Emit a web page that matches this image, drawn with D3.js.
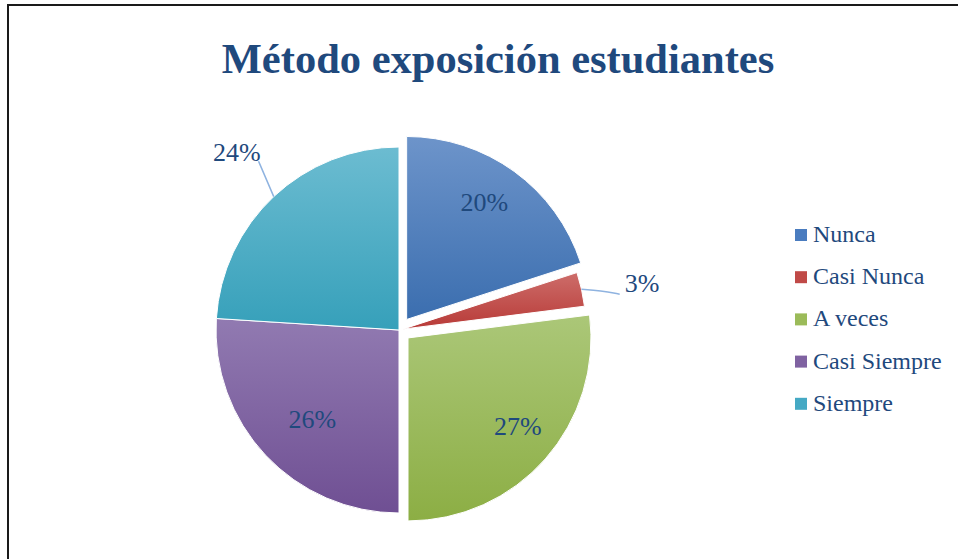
<!DOCTYPE html>
<html>
<head>
<meta charset="utf-8">
<script src="https://cdn.jsdelivr.net/npm/d3@7"></script>
<style>
  body { margin: 0; background: #fff; }
  svg { display: block; }
</style>
</head>
<body>
<div id="chart"></div>
<script>
const width = 958;
const height = 559;

// data
const categories = ["Nunca", "Casi Nunca", "A veces", "Casi Siempre", "Siempre"];
const values = [20, 3, 27, 26, 24];
const labelInside = [true, false, true, true, false];

// styling per slice
const explode = [13, 4, 12, 0, 0];
const labelRadius = [0.77, 1.2, 0.77, 0.68, 1.2];
const topColors = ["#6d94ca", "#cd6d6a", "#abc778", "#917ab1", "#6cbcd1"];
const bottomColors = ["#3b6eaf", "#b83a37", "#8cae44", "#6f4f93", "#36a0ba"];
const legendColors = ["#4a7cbf", "#c04a47", "#9bbb59", "#7f62a1", "#45a9c4"];

const textColor = "#1f497d";
const serif = "Liberation Serif";

const cx = 399;
const cy = 330;
const r = 183;

const svg = d3
  .select("#chart")
  .append("svg")
  .attr("width", width)
  .attr("height", height);

const defs = svg.append("defs");
categories.forEach((c, i) => {
  const g = defs
    .append("linearGradient")
    .attr("id", "grad" + i)
    .attr("x1", 0)
    .attr("y1", 0)
    .attr("x2", 0)
    .attr("y2", 1);
  g.append("stop").attr("offset", "0%").attr("stop-color", topColors[i]);
  g.append("stop").attr("offset", "100%").attr("stop-color", bottomColors[i]);
});

// frame (only top and left edges are visible in the picture)
svg
  .append("rect")
  .attr("x", 8)
  .attr("y", 5)
  .attr("width", width + 20)
  .attr("height", height + 20)
  .attr("fill", "none")
  .attr("stroke", "#1a1a1a")
  .attr("stroke-width", 2);

svg
  .append("text")
  .attr("x", 498)
  .attr("y", 73)
  .attr("text-anchor", "middle")
  .style("font-family", serif)
  .style("font-weight", "bold")
  .style("font-size", "42.5px")
  .attr("fill", textColor)
  .text("Método exposición estudiantes");

const pie = d3.pie().sort(null).startAngle(0).endAngle(2 * Math.PI);
const arcs = pie(values);

const arc = d3.arc().innerRadius(0).outerRadius(r);

const dir = (a) => [Math.sin(a), -Math.cos(a)];

const pieG = svg.append("g").attr("transform", `translate(${cx},${cy})`);

const slices = pieG
  .selectAll("g.slice")
  .data(arcs)
  .join("g")
  .attr("class", "slice")
  .attr("transform", (d, i) => {
    const [dx, dy] = dir((d.startAngle + d.endAngle) / 2);
    return `translate(${dx * explode[i]},${dy * explode[i]})`;
  });

slices
  .append("path")
  .attr("d", arc)
  .attr("fill", (d, i) => `url(#grad${i})`)
  .attr("stroke", "#fff")
  .attr("stroke-width", 1);

// inside labels
slices
  .filter((d, i) => labelInside[i])
  .append("text")
  .attr("transform", (d) => {
    const m = (d.startAngle + d.endAngle) / 2 - 0.045;
    const [dx, dy] = dir(m);
    const k = labelRadius[d.index] * r;
    return `translate(${dx * k},${dy * k})`;
  })
  .attr("text-anchor", "middle")
  .attr("dy", "0.35em")
  .style("font-family", serif)
  .style("font-size", "26px")
  .attr("fill", textColor)
  .text((d) => d.value + "%");

// outside labels with leader lines
const outside = slices.filter((d, i) => !labelInside[i]);

outside.each(function (d) {
  const g = d3.select(this);
  const m = (d.startAngle + d.endAngle) / 2;
  const [sx, sy] = dir(m);
  const [ex, ey] = dir(m + 0.06);
  const k = labelRadius[d.index] * r;
  const p0 = [sx * r, sy * r];
  const p1 = [ex * k, ey * k];
  const right = p1[0] > 0;

  g.append("path")
    .attr("d", d3.line().curve(d3.curveBasis)([p0, [(p0[0] + p1[0]) / 2, (p0[1] + p1[1]) / 2 + (right ? -1 : 0)], p1]))
    .attr("fill", "none")
    .attr("stroke", "#8fb3e0")
    .attr("stroke-width", 1.5);

  g.append("text")
    .attr("x", p1[0] + (right ? 5 : 2))
    .attr("y", p1[1] + (right ? -2 : 0))
    .attr("text-anchor", right ? "start" : "end")
    .style("font-family", serif)
    .style("font-size", "26px")
    .attr("fill", textColor)
    .text(d.value + "%");
});

// legend
const legend = svg
  .append("g")
  .attr("transform", "translate(795,229)")
  .selectAll("g")
  .data(categories)
  .join("g")
  .attr("transform", (d, i) => `translate(0,${i * 42.2})`);

legend
  .append("rect")
  .attr("width", 12)
  .attr("height", 12)
  .attr("fill", (d, i) => legendColors[i]);

legend
  .append("text")
  .attr("x", 18)
  .attr("y", 13)
  .style("font-family", serif)
  .style("font-size", "24px")
  .attr("fill", textColor)
  .text((d) => d);
</script>
</body>
</html>
